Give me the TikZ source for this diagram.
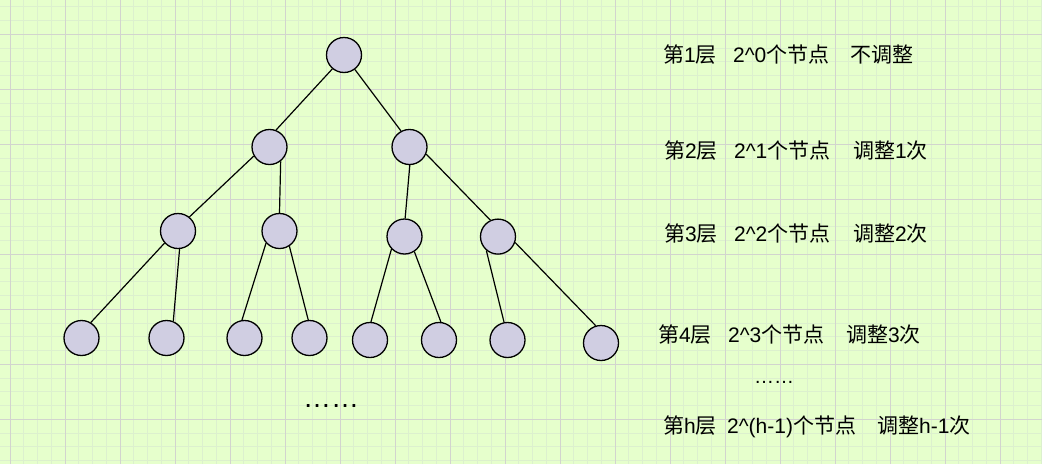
\documentclass[tikz,border=0pt]{standalone}
\usepackage{fontspec}
\setmainfont{Liberation Sans}
\newfontfamily\cjk{Noto Sans CJK SC}
\newcommand\zh[1]{{\cjk #1}}
\definecolor{bgc}{HTML}{E6FFCC}
\definecolor{minorc}{HTML}{DCF0CE}
\definecolor{majorc}{HTML}{D2D4CE}
\definecolor{nodefill}{HTML}{D0CEE2}
\begin{document}
\begin{tikzpicture}[x=1pt,y=-1pt,
  tnode/.style={circle,draw=black,fill=nodefill,line width=1.3pt,minimum size=35pt,inner sep=0pt},
  edge/.style={draw=black,line width=1.2pt},
  lbl/.style={anchor=base west,inner sep=0pt,font=\fontsize{21}{25}\selectfont,text=black},
  dots/.style={anchor=base west,inner sep=0pt,text=black}]
\useasboundingbox (0,0) rectangle (1042,464);
\fill[bgc] (0,0) rectangle (1042,464);
% grid
\foreach \k in {-1,...,76} \draw[minorc,line width=1pt] ({10+13.75*\k},0) -- ++(0,464);
\foreach \k in {-3,...,31} \draw[minorc,line width=1pt] (0,{34.33+13.75*\k}) -- ++(1042,0);
\foreach \k in {0,...,19} \draw[majorc,line width=1pt] ({10+55*\k},0) -- ++(0,464);
\foreach \k in {-1,...,8} \draw[majorc,line width=1pt] (0,{34.33+55*\k}) -- ++(1042,0);
% nodes
\node[tnode] (r) at (344,55) {};
\node[tnode] (a) at (269.5,147) {};
\node[tnode] (b) at (409.5,147) {};
\node[tnode] (c) at (178,231) {};
\node[tnode] (d) at (279.5,231) {};
\node[tnode] (e) at (404.5,236.5) {};
\node[tnode] (f) at (498,236.6) {};
\node[tnode] (g) at (81.5,338) {};
\node[tnode] (h) at (166.5,338) {};
\node[tnode] (i) at (244.5,338) {};
\node[tnode] (j) at (309.5,338) {};
\node[tnode] (k) at (370,340) {};
\node[tnode] (l) at (439,340) {};
\node[tnode] (m) at (507.5,340) {};
\node[tnode] (n) at (601,343) {};
% edges
\draw[edge] (r.-130.7) -- (a.69.8);
\draw[edge] (r.-53.3) -- (b.118.4);
\draw[edge] (a.-150.2) -- (c.51.1);
\draw[edge] (a.-52) -- (d.90);
\draw[edge] (b.-89.3) -- (e.88);
\draw[edge] (b.-23) -- (f.115.7);
\draw[edge] (c.-138.7) -- (g.59.8);
\draw[edge] (c.-85.7) -- (h.68.4);
\draw[edge] (d.-138.3) -- (i.98.5);
\draw[edge] (d.-57.2) -- (j.94.2);
\draw[edge] (e.-136.5) -- (k.87.7);
\draw[edge] (e.-57) -- (l.84.5);
\draw[edge] (f.-130.1) -- (m.101.2);
\draw[edge] (f.-19.4) -- (n.107);
% left dots
\node[dots,font=\fontsize{28}{32}\selectfont] (ldots) at (303,407.7) {……};
% labels
\node[lbl] (t1a) at (663,62.5) {\zh{第}1\zh{层}};
\node[lbl] (t1b) at (733,62.5) {2\^{}0\zh{个节点}};
\node[lbl] (t1c) at (850,62.5) {\zh{不调整}};
\node[lbl] (t2a) at (664,158) {\zh{第}2\zh{层}};
\node[lbl] (t2b) at (734,158) {2\^{}1\zh{个节点}};
\node[lbl] (t2c) at (853,158) {\zh{调整}1\zh{次}};
\node[lbl] (t3a) at (664,241.7) {\zh{第}3\zh{层}};
\node[lbl] (t3b) at (734,241.7) {2\^{}2\zh{个节点}};
\node[lbl] (t3c) at (853,241.7) {\zh{调整}2\zh{次}};
\node[lbl] (t4a) at (658,342.7) {\zh{第}4\zh{层}};
\node[lbl] (t4b) at (728,342.7) {2\^{}3\zh{个节点}};
\node[lbl] (t4c) at (846,342.7) {\zh{调整}3\zh{次}};
\node[dots,font=\fontsize{20}{24}\selectfont] (rdots) at (754,383.5) {……};
\node[lbl] (tha) at (663,433.3) {\zh{第}h\zh{层}};
\node[lbl] (thb) at (727,433.3) {2\^{}(h-1)\zh{个节点}};
\node[lbl] (thc) at (877,433.3) {\zh{调整}h-1\zh{次}};
\end{tikzpicture}
\end{document}
